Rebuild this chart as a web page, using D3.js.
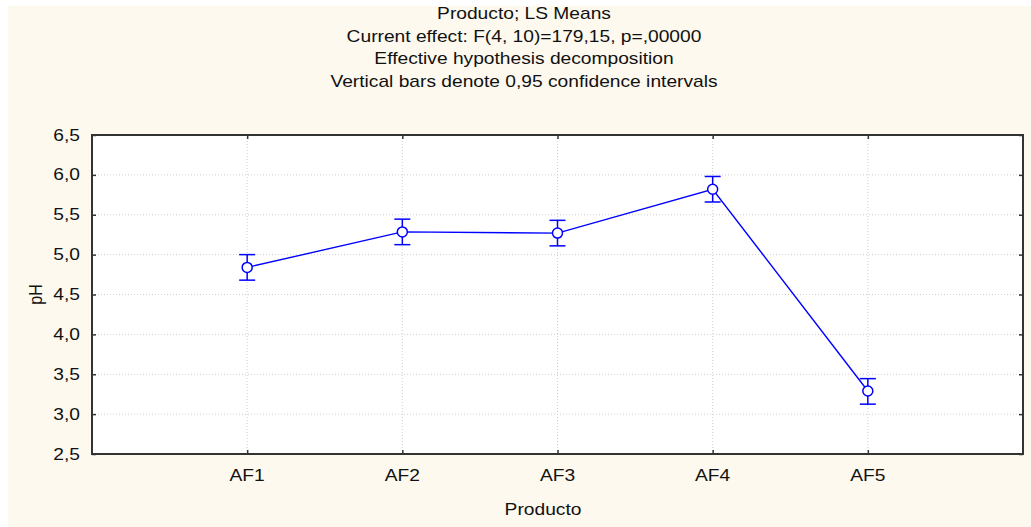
<html>
<head>
  <meta charset="utf8">
  <title>Producto; LS Means</title>
  <style>
  * { margin: 0; padding: 0; }
  body { background: #fff; }
  </style>
</head>
<body>
  <script src="https://cdn.jsdelivr.net/npm/d3@7"></script>
  <script>
  var w = 1031;
  var h = 527;

  var categories = ["AF1", "AF2", "AF3", "AF4", "AF5"];
  var means = [4.84, 5.285, 5.27, 5.82, 3.29];
  var lower = [4.68, 5.125, 5.11, 5.66, 3.125];
  var upper = [5.00, 5.445, 5.43, 5.98, 3.445];
  var yTicks = [2.5, 3.0, 3.5, 4.0, 4.5, 5.0, 5.5, 6.0, 6.5];
  var titles = [
    "Producto; LS Means",
    "Current effect: F(4, 10)=179,15, p=,00000",
    "Effective hypothesis decomposition",
    "Vertical bars denote 0,95 confidence intervals"
  ];

  var pLeft = 92, pRight = 1023, pTop = 135, pBottom = 454;
  var font = "'Liberation Sans', Arial, sans-serif";
  var blue = "#0000ff";
  var stretch = 1.2; // text in the reference is a bit wide

  var svg = d3.select("body").append("svg")
    .attr("width", w)
    .attr("height", h);

  // beige backdrop
  svg.append("rect")
    .attr("x", 8).attr("y", 6)
    .attr("width", w - 8).attr("height", h - 6)
    .attr("fill", "#fdf9ef");

  var xScale = d3.scaleLinear()
    .domain([0, categories.length + 1])
    .range([pLeft, pRight]);
  var yScale = d3.scaleLinear()
    .domain([2.5, 6.5])
    .range([pBottom, pTop]);

  svg.append("rect")
    .attr("x", pLeft).attr("y", pTop)
    .attr("width", pRight - pLeft).attr("height", pBottom - pTop)
    .attr("fill", "#fff");

  // grid
  svg.selectAll(".hgrid")
    .data(yTicks.slice(1, -1))
    .enter().append("line")
    .attr("x1", pLeft).attr("x2", pRight)
    .attr("y1", d => yScale(d)).attr("y2", d => yScale(d))
    .attr("stroke", "#d0d0d0")
    .attr("stroke-dasharray", "1,2");
  svg.selectAll(".vgrid")
    .data(categories)
    .enter().append("line")
    .attr("x1", (d, i) => xScale(i + 1)).attr("x2", (d, i) => xScale(i + 1))
    .attr("y1", pTop).attr("y2", pBottom)
    .attr("stroke", "#d0d0d0")
    .attr("stroke-dasharray", "1,2");

  // axes (inner ticks)
  var yAxisL = d3.axisRight(yScale).tickValues(yTicks).tickSize(4).tickFormat("");
  var yAxisR = d3.axisLeft(yScale).tickValues(yTicks).tickSize(4).tickFormat("");
  var xAxisB = d3.axisTop(xScale).tickValues([1, 2, 3, 4, 5]).tickSize(4).tickFormat("");
  var xAxisT = d3.axisBottom(xScale).tickValues([1, 2, 3, 4, 5]).tickSize(4).tickFormat("");

  [[yAxisL, pLeft, 0], [yAxisR, pRight, 0], [xAxisB, 0, pBottom], [xAxisT, 0, pTop]].forEach(function(a) {
    var g = svg.append("g")
      .attr("transform", "translate(" + a[1] + "," + a[2] + ")")
      .call(a[0]);
    g.select(".domain").remove();
    g.selectAll("line").attr("stroke", "#333").attr("stroke-width", 1.5);
  });

  svg.append("rect")
    .attr("x", pLeft).attr("y", pTop)
    .attr("width", pRight - pLeft).attr("height", pBottom - pTop)
    .attr("fill", "none")
    .attr("stroke", "#333")
    .attr("stroke-width", 2);

  function label(x, y, anchor, txt) {
    return svg.append("text")
      .attr("transform", "translate(" + x + "," + y + ") scale(" + stretch + ",1)")
      .attr("text-anchor", anchor)
      .attr("font-family", font)
      .attr("font-size", "16px")
      .attr("fill", "#111")
      .text(txt);
  }

  // tick labels
  yTicks.forEach(function(d) {
    label(80, yScale(d) + 5.5, "end", d3.format(".1f")(d).replace(".", ","));
  });
  categories.forEach(function(d, i) {
    label(xScale(i + 1), 481, "middle", d);
  });

  // axis titles
  svg.append("text")
    .attr("transform", "translate(42," + ((pTop + pBottom) / 2) + ") rotate(-90) scale(1," + stretch + ")")
    .attr("text-anchor", "middle")
    .attr("font-family", font)
    .attr("font-size", "16px")
    .attr("fill", "#111")
    .text("pH");
  label(543, 515, "middle", "Producto");

  // title
  titles.forEach(function(d, i) {
    label(524, 19 + i * 22.7, "middle", d);
  });

  // line
  var line = d3.line()
    .x((d, i) => xScale(i + 1))
    .y(d => yScale(d));
  svg.append("path")
    .datum(means)
    .attr("d", line)
    .attr("fill", "none")
    .attr("stroke", blue)
    .attr("stroke-width", 1.4);

  // error bars
  var eb = svg.selectAll(".eb")
    .data(categories)
    .enter().append("g")
    .attr("stroke", blue)
    .attr("stroke-width", 1.5);
  eb.append("line")
    .attr("x1", (d, i) => xScale(i + 1)).attr("x2", (d, i) => xScale(i + 1))
    .attr("y1", (d, i) => yScale(lower[i])).attr("y2", (d, i) => yScale(upper[i]));
  eb.append("line")
    .attr("x1", (d, i) => xScale(i + 1) - 8).attr("x2", (d, i) => xScale(i + 1) + 8)
    .attr("y1", (d, i) => yScale(upper[i])).attr("y2", (d, i) => yScale(upper[i]));
  eb.append("line")
    .attr("x1", (d, i) => xScale(i + 1) - 8).attr("x2", (d, i) => xScale(i + 1) + 8)
    .attr("y1", (d, i) => yScale(lower[i])).attr("y2", (d, i) => yScale(lower[i]));

  svg.selectAll(".pt")
    .data(means)
    .enter().append("circle")
    .attr("cx", (d, i) => xScale(i + 1))
    .attr("cy", d => yScale(d))
    .attr("r", 5)
    .attr("fill", "#fff")
    .attr("stroke", blue)
    .attr("stroke-width", 1.5);
  </script>
</body>
</html>
